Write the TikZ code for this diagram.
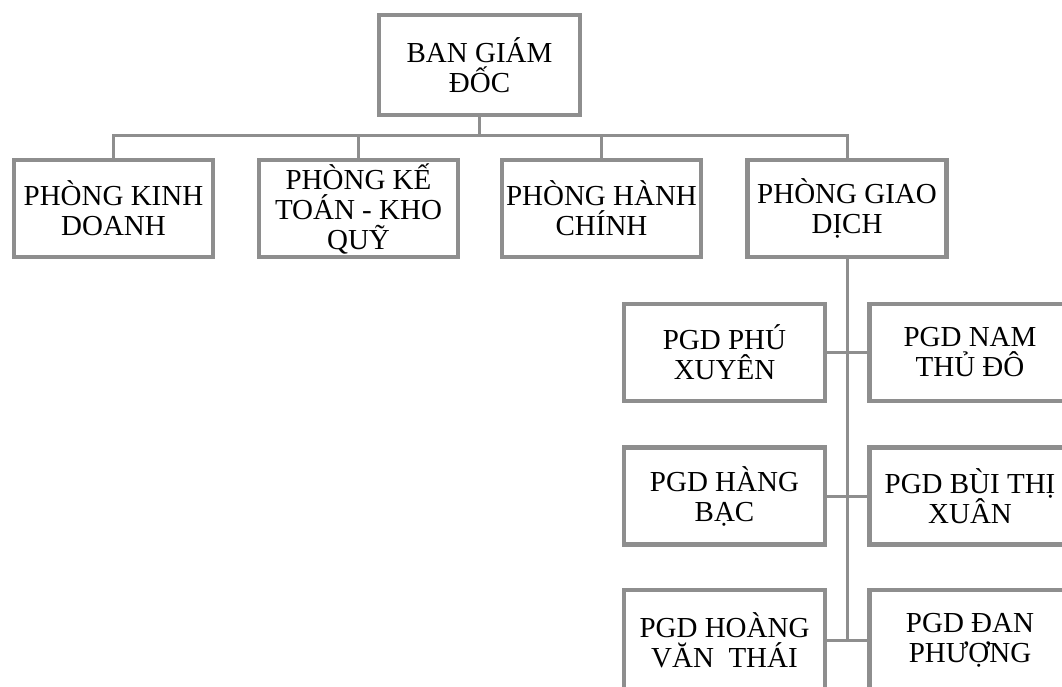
\documentclass[tikz,border=0pt]{standalone}
\usepackage{fontspec}
\setmainfont{Liberation Serif}
\begin{document}
\begin{tikzpicture}[x=1pt,y=-1pt,
  box/.style={draw=boxgray,line width=4.5pt,fill=white,rectangle,inner sep=0pt,
    align=center,font=\fontsize{29}{30}\selectfont},
  topbox/.style={box,minimum width=201pt,minimum height=100pt},
  deptbox/.style={box,minimum width=199pt,minimum height=97pt},
  pgdbox/.style={box,minimum width=201pt,minimum height=97pt},
  conn/.style={draw=boxgray,line width=3pt}]
\definecolor{boxgray}{HTML}{8E8E8E}
\useasboundingbox (0,0) rectangle (1062,687);
\clip (0,0) rectangle (1062,687);
\fill[white] (0,0) rectangle (1062,687);
\coordinate (bus) at (0,136);
\node[topbox] (top) at (479.5,65) {BAN GIÁM\\ĐỐC};
\node[deptbox] (k1) at (113.5,208.5) {PHÒNG KINH\\DOANH};
\node[deptbox] (k2) at (358.5,208.5) {PHÒNG KẾ\\TOÁN - KHO\\QUỸ};
\node[deptbox] (k3) at (601.5,208.5) {PHÒNG HÀNH\\CHÍNH};
\node[deptbox] (k4) at (847,208.5) {PHÒNG GIAO\\DỊCH};
\node[pgdbox] (r1l) at (724.5,352.5) {PGD PHÚ\\XUYÊN};
\node[pgdbox] (r1r) at (970,352.5) {PGD NAM\\THỦ ĐÔ};
\node[pgdbox] (r2l) at (724.5,496) {PGD HÀNG\\BẠC};
\node[pgdbox] (r2r) at (970,496) {PGD BÙI THỊ\\XUÂN};
\node[pgdbox,minimum height=100pt] (r3l) at (724.5,640) {PGD HOÀNG\\VĂN~ THÁI};
\node[pgdbox,minimum height=100pt] (r3r) at (970,640) {PGD ĐAN\\PHƯỢNG};
% connectors
\draw[conn] (top.south) -- (top.south |- bus);
\draw[conn] (k1.north) |- (bus -| k4.north) -- (k4.north);
\draw[conn] (k2.north) -- (k2.north |- bus);
\draw[conn] (k3.north) -- (k3.north |- bus);
\draw[conn] (k4.south) -- (k4.south |- r3l.east);
\draw[conn] (r1l.east) -- (r1r.west);
\draw[conn] (r2l.east) -- (r2r.west);
\draw[conn] (r3l.east) -- (r3r.west);
\end{tikzpicture}
\end{document}
